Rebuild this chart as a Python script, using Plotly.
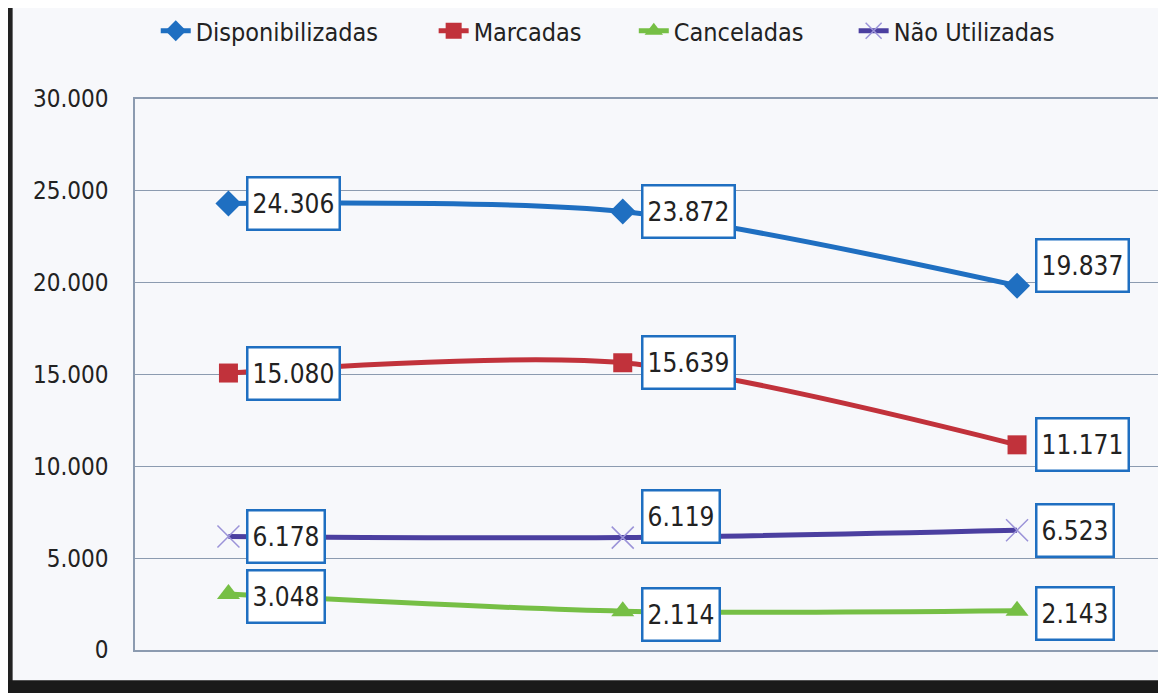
import plotly.graph_objects as go

# dados
categorias = ["Período 1", "Período 2", "Período 3"]
disponibilizadas = [24306, 23872, 19837]
marcadas = [15080, 15639, 11171]
canceladas = [3048, 2114, 2143]
nao_utilizadas = [6178, 6119, 6523]

y_ticks = [0, 5000, 10000, 15000, 20000, 25000, 30000]
y_tick_labels = ["0", "5.000", "10.000", "15.000", "20.000", "25.000", "30.000"]

FONTE = "DejaVu Sans Condensed, Liberation Sans Narrow, Open Sans, sans-serif"


def fmt(v):
    return f"{v:,}".replace(",", ".")


series = [
    ("Disponibilizadas", disponibilizadas, "#1f6fc1", dict(symbol="diamond", size=20, color="#1f6fc1")),
    ("Marcadas", marcadas, "#c1323b", dict(symbol="square", size=19, color="#c1323b")),
    ("Canceladas", canceladas, "#76bf45", dict(symbol="triangle-up", size=20, color="#76bf45")),
    ("Não Utilizadas", nao_utilizadas, "#4b3fa0",
     dict(symbol="x-thin", size=22, line=dict(width=1.5, color="#9b93d8"), color="#9b93d8")),
]

# deslocamento vertical dos rótulos (px), por série
label_yshift = {
    "Disponibilizadas": [0, 0, 20],
    "Marcadas": [0, 0, 0],
    "Canceladas": [-2, -3, -3],
    "Não Utilizadas": [0, 21, 0],
}

# uma legenda por série, para acertar o espaçamento
legend_x = [0.02, 0.288, 0.481, 0.693]

fig = go.Figure()
for i, (name, vals, color, marker) in enumerate(series):
    fig.add_trace(go.Scatter(
        x=categorias, y=vals, mode="lines+markers", name=name,
        line=dict(color=color, width=5, shape="spline", smoothing=0.8),
        marker=marker,
        legend="legend" if i == 0 else f"legend{i + 1}",
    ))

annotations = []
for name, vals, color, marker in series:
    for cat, v, dy in zip(categorias, vals, label_yshift[name]):
        annotations.append(dict(
            x=cat, y=v, xref="x", yref="y", text=fmt(v), showarrow=False,
            xanchor="left", yanchor="middle", xshift=18, yshift=dy,
            height=42,
            font=dict(size=26, color="#222222", family=FONTE),
            bgcolor="white", bordercolor="#1f6fc1", borderwidth=2.5, borderpad=4,
        ))

shapes = [
    # moldura escura à esquerda e em baixo
    dict(type="rect", xref="paper", yref="paper", x0=-0.125, x1=-0.118, y0=-0.06, y1=1.2,
         fillcolor="#222222", line=dict(width=0)),
    dict(type="rect", xref="paper", yref="paper", x0=-0.125, x1=1.0, y0=-0.1, y1=-0.055,
         fillcolor="#1a1a1a", line=dict(width=0)),
]

legend_style = dict(orientation="h", y=1.124, xanchor="left", yanchor="middle",
                    font=dict(size=25, family=FONTE), bgcolor="rgba(0,0,0,0)")
legends = {}
for i, lx in enumerate(legend_x):
    key = "legend" if i == 0 else f"legend{i + 1}"
    legends[key] = dict(legend_style, x=lx)

fig.update_layout(
    width=1166, height=693,
    margin=dict(l=127, r=0, t=89, b=51),
    paper_bgcolor="#f7f8fb", plot_bgcolor="#f7f8fb",
    font=dict(family=FONTE, size=22, color="#222222"),
    showlegend=True,
    xaxis=dict(range=[-0.237, 2.393], showticklabels=False, showgrid=False, zeroline=False,
               showline=True, mirror=True, linecolor="#8c9bb0", linewidth=1.5, ticks=""),
    yaxis=dict(range=[0, 30000], tickvals=y_ticks, ticktext=y_tick_labels, showgrid=True,
               gridcolor="#8c9bb0", gridwidth=1.2, zeroline=False, ticks="", ticklabelstandoff=20,
               showline=True, mirror=True, linecolor="#8c9bb0", linewidth=1.5,
               tickfont=dict(size=24, color="#222222")),
    annotations=annotations,
    shapes=shapes,
    **legends,
)

fig.write_html("out.html")
